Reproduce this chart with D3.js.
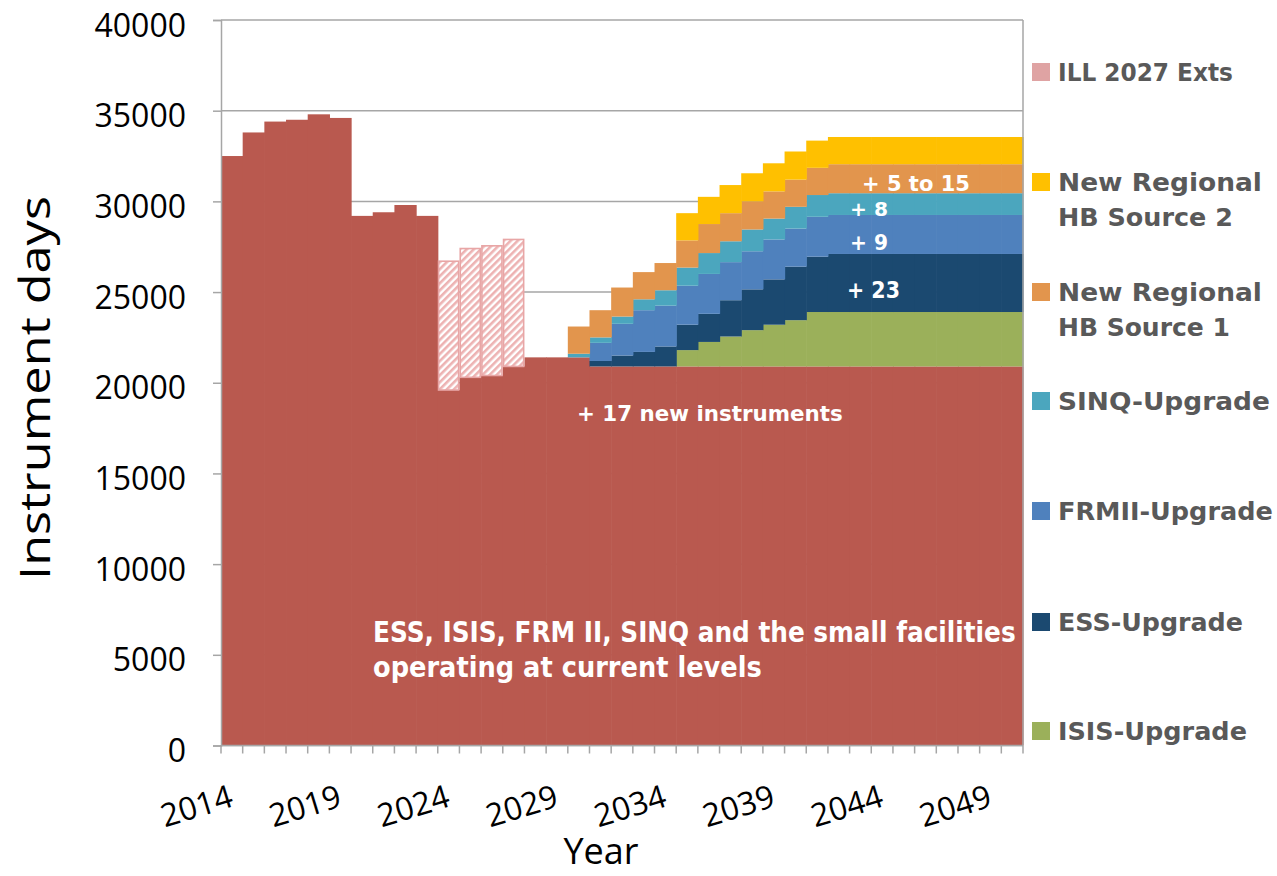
<!DOCTYPE html>
<html><head><meta charset="utf-8">
<script src="https://cdn.jsdelivr.net/npm/d3@7"></script>
<style>body{margin:0;background:#fff}</style>
</head><body>
<svg id="chart" width="1277" height="876"></svg>
<script>
// ---------- DATA ----------
const years = [2014,2015,2016,2017,2018,2019,2020,2021,2022,2023,2024,2025,2026,2027,2028,2029,2030,
  2031,2032,2033,2034,2035,2036,2037,2038,2039,2040,2041,2042,2043,2044,2045,2046,2047,2048,2049,2050];
const tickYears = [2014,2019,2024,2029,2034,2039,2044,2049];
const yTicks = [0,5000,10000,15000,20000,25000,30000,35000,40000];

// ESS, ISIS, FRM II, SINQ and small facilities at current levels
const baseValues = [32500,33800,34400,34500,34800,34600,29200,29400,29800,29200,19600,20300,20400,20900,21400,21400,21400,
  20900,20900,20900,20900,20900,20900,20900,20900,20900,20900,20900,20900,20900,20900,20900,20900,20900,20900,20900,20900];
const illExts = [0,0,0,0,0,0,0,0,0,0,7100,7100,7150,7000,0,0,0,
  0,0,0,0,0,0,0,0,0,0,0,0,0,0,0,0,0,0,0,0];
const isisUpgrade = [0,0,0,0,0,0,0,0,0,0,0,0,0,0,0,0,0,
  0,0,0,0,900,1350,1650,2000,2300,2550,3000,3000,3000,3000,3000,3000,3000,3000,3000,3000];
const essUpgrade = [0,0,0,0,0,0,0,0,0,0,0,0,0,0,0,0,0,
  300,600,800,1100,1400,1550,2000,2250,2500,2950,3050,3200,3200,3200,3200,3200,3200,3200,3200,3200];
const frmiiUpgrade = [0,0,0,0,0,0,0,0,0,0,0,0,0,0,0,0,0,
  1000,1750,2300,2250,2150,2200,2100,2100,2200,2100,2200,2150,2150,2150,2150,2150,2150,2150,2150,2150];
const sinqUpgrade = [0,0,0,0,0,0,0,0,0,0,0,0,0,0,0,0,200,
  300,400,600,850,1000,1150,1150,1200,1150,1200,1200,1200,1200,1200,1200,1200,1200,1200,1200,1200];
const hbSource1 = [0,0,0,0,0,0,0,0,0,0,0,0,0,0,0,0,1500,
  1500,1600,1500,1500,1500,1600,1550,1550,1500,1500,1500,1600,1600,1600,1600,1600,1600,1600,1600,1600];
const hbSource2 = [0,0,0,0,0,0,0,0,0,0,0,0,0,0,0,0,0,
  0,0,0,0,1500,1500,1550,1550,1550,1550,1500,1500,1500,1500,1500,1500,1500,1500,1500,1500];

const stackKeys = ["base","ill","isis","ess","frmii","sinq","hb1","hb2"];
const seriesLabels = {
  ill:["ILL 2027 Exts"], hb2:["New Regional","HB Source 2"], hb1:["New Regional","HB Source 1"],
  sinq:["SINQ-Upgrade"], frmii:["FRMII-Upgrade"], ess:["ESS-Upgrade"], isis:["ISIS-Upgrade"]
};
const legendOrder = ["ill","hb2","hb1","sinq","frmii","ess","isis"];
const colors = {base:"#B9594F", ill:"#DFA3A3", isis:"#9BB05A", ess:"#1B4970", frmii:"#4F81BD",
  sinq:"#4BA6BE", hb1:"#E2954D", hb2:"#FFC000"};

// ---------- BUILD ----------
const table = years.map((y,i)=>({year:y, base:baseValues[i], ill:illExts[i], isis:isisUpgrade[i],
  ess:essUpgrade[i], frmii:frmiiUpgrade[i], sinq:sinqUpgrade[i], hb1:hbSource1[i], hb2:hbSource2[i]}));
const stacked = d3.stack().keys(stackKeys)(table);

const svg = d3.select("#chart");
const L=221, R=1023, T=20, B=745.5;
const x = d3.scaleBand().domain(years).range([L,R]).padding(0);
const y = d3.scaleLinear().domain([0,40000]).range([B,T]);
const bw = x.bandwidth();

// squeeze a text horizontally to a target width (keeps it real text)
function fitWidth(node, w, extra){
  const nat = node.getComputedTextLength();
  const px = +node.getAttribute("x")||0, py = +node.getAttribute("y")||0;
  node.setAttribute("x",0); node.setAttribute("y",0);
  node.setAttribute("transform",`translate(${px},${py}) ${extra||""} scale(${w/nat},1)`);
}

const defs = svg.append("defs");
const pat = defs.append("pattern").attr("id","hatch").attr("patternUnits","userSpaceOnUse")
  .attr("width",5).attr("height",5).attr("patternTransform","rotate(45)");
pat.append("rect").attr("width",5).attr("height",5).attr("fill","#ffffff");
pat.append("rect").attr("width",2.6).attr("height",5).attr("fill","#EDB2B2");

// gridlines
svg.append("g").selectAll("line").data(yTicks).join("line")
  .attr("x1",L).attr("x2",R).attr("y1",d=>y(d)).attr("y2",d=>y(d))
  .attr("stroke","#A6A6A6").attr("stroke-width",1.5);

// bars
const gBars = svg.append("g");
stacked.forEach(layer=>{
  const key = layer.key;
  const pts = layer.filter(d=>d[1]-d[0]>0);
  if(key==="ill"){
    gBars.append("g").selectAll("rect").data(pts).join("rect")
      .attr("x",d=>x(d.data.year)+0.8).attr("width",bw-1.6)
      .attr("y",d=>y(d[1])).attr("height",d=>y(d[0])-y(d[1]))
      .attr("fill","url(#hatch)").attr("stroke","#E8A6A6").attr("stroke-width",1.6);
  } else {
    gBars.append("g").selectAll("rect").data(pts).join("rect")
      .attr("x",d=>x(d.data.year)).attr("width",bw+0.6)
      .attr("y",d=>y(d[1])).attr("height",d=>y(d[0])-y(d[1]))
      .attr("fill",colors[key]);
  }
});

// plot border (right)
svg.append("line").attr("x1",R).attr("x2",R).attr("y1",T).attr("y2",B).attr("stroke","#A6A6A6").attr("stroke-width",1.5);

// y axis
const yAxis = svg.append("g").attr("transform",`translate(${L},0)`)
  .call(d3.axisLeft(y).tickValues(yTicks).tickSize(8).tickPadding(27).tickFormat(d3.format("d")));
yAxis.select(".domain").attr("stroke","#A6A6A6").attr("stroke-width",1.5);
yAxis.selectAll(".tick line").attr("stroke","#A6A6A6").attr("stroke-width",1.5);
yAxis.selectAll(".tick text").attr("font-family","'Open Sans', sans-serif").attr("font-size",32)
  .attr("fill","#000").attr("dy","0.5em");

// x axis line and ticks at category boundaries
const gx = svg.append("g");
gx.append("line").attr("x1",L).attr("x2",R).attr("y1",B).attr("y2",B).attr("stroke","#A6A6A6").attr("stroke-width",1.5);
const bounds = years.map(d=>x(d)).concat([x(years[years.length-1])+bw]);
gx.selectAll("line.tk").data(bounds).join("line").attr("class","tk")
  .attr("x1",d=>d).attr("x2",d=>d).attr("y1",B).attr("y2",B+8)
  .attr("stroke","#A6A6A6").attr("stroke-width",1.5);
gx.selectAll("text").data(tickYears).join("text")
  .attr("transform",d=>`translate(${x(d)+bw/2+3},806) rotate(-17)`)
  .attr("text-anchor","end").attr("font-family","'Open Sans', sans-serif").attr("font-size",32)
  .attr("fill","#000").text(d=>d);

// axis titles
const yTitle = svg.append("text").attr("x",50).attr("y",388).attr("text-anchor","middle")
  .attr("font-family","'Open Sans', sans-serif").attr("font-size",42).attr("fill","#000")
  .text("Instrument days");
fitWidth(yTitle.node(), 384, "rotate(-90)");
svg.append("text").attr("x",601).attr("y",864).attr("text-anchor","middle")
  .attr("font-family","'Open Sans', sans-serif").attr("font-size",36).attr("fill","#000")
  .text("Year");

// legend
const legendY = {ill:72, hb2:182, hb1:292, sinq:401, frmii:511, ess:622, isis:731};
const legendW = {"ILL 2027 Exts":175,"New Regional":204,"HB Source 2":175,"HB Source 1":172,
  "SINQ-Upgrade":212,"FRMII-Upgrade":215,"ESS-Upgrade":185,"ISIS-Upgrade":189};
const gl = svg.append("g");
legendOrder.forEach(k=>{
  const cy = legendY[k];
  gl.append("rect").attr("x",1032).attr("y",cy-9).attr("width",18).attr("height",18).attr("fill",colors[k]);
  seriesLabels[k].forEach((t,j)=>{
    const tx = gl.append("text").attr("x",1058).attr("y",cy+9+j*35)
      .attr("font-family","'DejaVu Sans', sans-serif").attr("font-weight","bold").attr("font-size",24)
      .attr("fill","#595959").text(t);
    fitWidth(tx.node(), legendW[t]);
  });
});

// annotations
const notes = [
  {t:"+ 17 new instruments", x:577, y:421, s:22, w:266},
  {t:"ESS, ISIS, FRM II, SINQ and the small facilities", x:373, y:642, s:28, w:643},
  {t:"operating at current levels", x:373, y:677, s:28, w:389},
  {t:"+ 5 to 15", x:862, y:191, s:21, w:108},
  {t:"+ 8", x:850, y:216, s:20, w:38},
  {t:"+ 9", x:850, y:250, s:22, w:38},
  {t:"+ 23", x:847, y:298, s:23, w:53}
];
svg.append("g").selectAll("text").data(notes).join("text")
  .attr("x",d=>d.x).attr("y",d=>d.y).attr("font-size",d=>d.s)
  .attr("font-family","'DejaVu Sans', sans-serif").attr("font-weight","bold").attr("fill","#fff")
  .text(d=>d.t)
  .each(function(d){ fitWidth(this, d.w); });
</script>
</body></html>
